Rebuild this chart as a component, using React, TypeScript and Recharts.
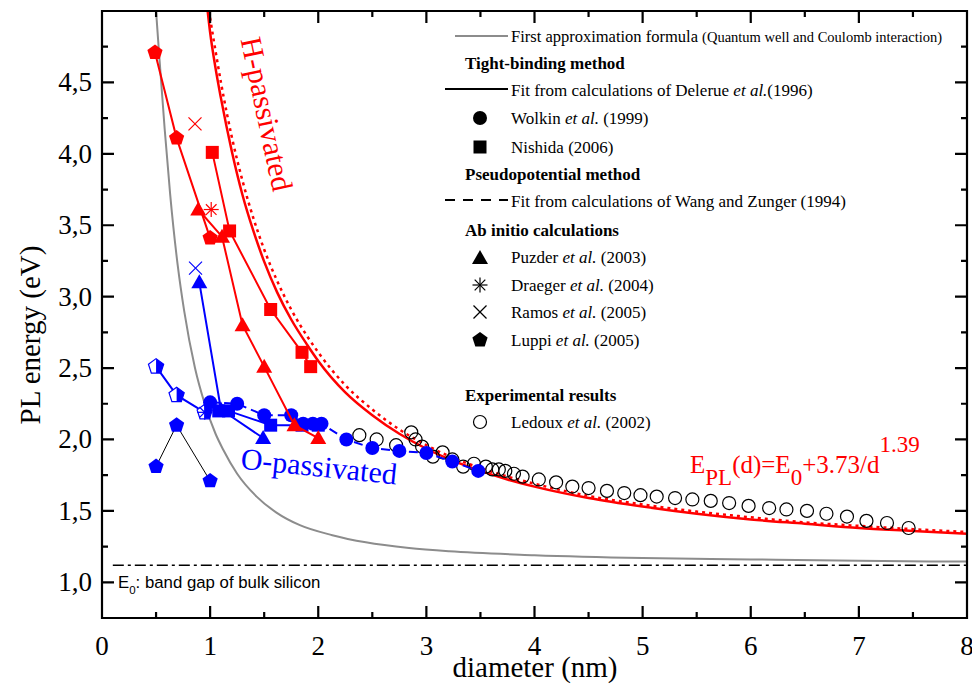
import { ComposedChart, Line, Scatter, XAxis, YAxis } from 'recharts'

const SERIF = '"Liberation Serif", "Times New Roman", serif'
const SANS = '"Liberation Sans", Arial, sans-serif'
const RED = '#ff0000'
const BLUE = '#0000ff'
const GRAY = '#8c8c8c'

// plot box (chart margins + axis sizes below put it here)
const BOX = { left: 102, right: 967, top: 11, bottom: 618 }
const X_DOMAIN = [0, 8]
const Y_DOMAIN = [0.75, 5]

// curves, [diameter nm, energy eV]
const firstApprox = [
  [0.5, 5.0], [0.53, 4.68], [0.58, 4.17], [0.63, 3.72], [0.7, 3.22], [0.76, 2.9], [0.86, 2.5],
  [0.95, 2.25], [1.05, 2.04], [1.12, 1.93], [1.25, 1.76], [1.43, 1.6], [1.61, 1.49], [1.83, 1.4],
  [2.13, 1.33], [2.44, 1.28], [2.84, 1.24], [3.21, 1.217], [4, 1.19], [5, 1.17], [6, 1.16], [7, 1.15], [8, 1.145],
]
const delerueFit = [
  [0.97, 5.05], [1.0, 4.85], [1.05, 4.6], [1.1, 4.39], [1.2, 4.02], [1.3, 3.71], [1.4, 3.46], [1.5, 3.245],
  [1.62, 3.03], [1.75, 2.84], [1.9, 2.66], [2.0, 2.55], [2.25, 2.33], [2.5, 2.17], [2.75, 2.04], [3.0, 1.935],
  [3.25, 1.85], [3.5, 1.78], [3.75, 1.72], [4.0, 1.67], [4.5, 1.59], [5.0, 1.53], [5.5, 1.48], [6.0, 1.44],
  [6.5, 1.41], [7.0, 1.38], [7.5, 1.36], [8.0, 1.34],
]
const wangZungerFit = [
  [0.98, 5.05], [1.0, 4.95], [1.05, 4.72], [1.1, 4.5], [1.2, 4.12], [1.3, 3.81], [1.4, 3.55], [1.5, 3.33],
  [1.62, 3.11], [1.75, 2.91], [1.9, 2.72], [2.0, 2.61], [2.25, 2.38], [2.5, 2.21], [2.75, 2.07], [3.0, 1.96],
  [3.25, 1.87], [3.5, 1.8], [3.75, 1.74], [4.0, 1.69], [4.5, 1.605], [5.0, 1.545], [5.5, 1.495], [6.0, 1.455],
  [6.5, 1.42], [7.0, 1.395], [7.5, 1.372], [8.0, 1.352],
]
const bulkGap = [[0.1, 1.12], [8, 1.12]]

// H-passivated
const luppiH = [[0.49, 4.71], [0.69, 4.11], [1.0, 3.41]]
const puzderH = [[0.89, 3.61], [1.11, 3.42], [1.3, 2.8], [1.5, 2.51], [1.78, 2.1], [2.0, 2.01]]
const nishidaH = [[1.02, 4.01], [1.18, 3.46], [1.56, 2.91], [1.85, 2.61], [1.93, 2.51]]
const draegerH = [[1.01, 3.61]]
const ramosH = [[0.86, 4.21]]

// O-passivated
const wolkinO = [
  [1.0, 2.26], [1.25, 2.25], [1.5, 2.17], [1.75, 2.17], [1.86, 2.11], [1.95, 2.11], [2.03, 2.11],
  [2.26, 2.0], [2.5, 1.94], [2.75, 1.92], [3.0, 1.905], [3.24, 1.845], [3.48, 1.78],
]
const nishidaO = [[1.08, 2.2], [1.17, 2.2], [1.56, 2.1], [1.85, 2.1], [2.0, 2.1]]
const puzderO = [[0.9, 3.1], [1.1, 2.21], [1.49, 2.01]]
const ramosO = [[0.865, 3.2]]
const draegerO = [[0.95, 2.19]]
const luppiO = [[0.5, 1.81], [0.69, 2.1], [1.0, 1.71]]
const luppiOHalf = [[0.5, 2.51], [0.69, 2.31], [0.95, 2.19]]

// experimental
const ledoux = [
  [2.38, 2.03], [2.54, 2.0], [2.72, 1.96], [2.86, 2.05], [2.9, 2.0], [2.96, 1.95], [3.06, 1.88], [3.15, 1.91],
  [3.24, 1.86], [3.34, 1.81], [3.44, 1.83], [3.55, 1.81], [3.61, 1.79], [3.67, 1.79], [3.73, 1.78], [3.81, 1.76],
  [3.89, 1.74], [4.04, 1.72], [4.2, 1.7], [4.35, 1.67], [4.5, 1.66], [4.67, 1.64], [4.83, 1.625], [4.98, 1.61],
  [5.13, 1.6], [5.3, 1.59], [5.46, 1.58], [5.63, 1.57], [5.8, 1.555], [5.98, 1.535], [6.17, 1.52], [6.33, 1.51],
  [6.52, 1.5], [6.7, 1.48], [6.89, 1.46], [7.07, 1.43], [7.26, 1.415], [7.46, 1.38],
]

const xTicks = [0, 0.5, 1, 1.5, 2, 2.5, 3, 3.5, 4, 4.5, 5, 5.5, 6, 6.5, 7, 7.5, 8]
const yTicks = [1, 1.25, 1.5, 1.75, 2, 2.25, 2.5, 2.75, 3, 3.25, 3.5, 3.75, 4, 4.25, 4.5, 4.75]

const pts = (a: number[][]) => a.map(([d, e]) => ({ d, e }))

// marker drawing
const pentPts = (cx: number, cy: number, r: number) =>
  [0, 1, 2, 3, 4]
    .map((k) => {
      const a = ((-90 + 72 * k) * Math.PI) / 180
      return `${cx + r * Math.cos(a)},${cy + r * Math.sin(a)}`
    })
    .join(' ')

const mk = {
  circle: (cx: number, cy: number, c: string) => <circle cx={cx} cy={cy} r={7} fill={c} />,
  open: (cx: number, cy: number, c: string) => <circle cx={cx} cy={cy} r={6.5} fill="none" stroke={c} strokeWidth={1.2} />,
  square: (cx: number, cy: number, c: string) => <rect x={cx - 6.5} y={cy - 6.5} width={13} height={13} fill={c} />,
  tri: (cx: number, cy: number, c: string) => (
    <polygon points={`${cx},${cy - 8} ${cx - 8},${cy + 6} ${cx + 8},${cy + 6}`} fill={c} />
  ),
  pent: (cx: number, cy: number, c: string) => <polygon points={pentPts(cx, cy, 8)} fill={c} />,
  halfPent: (cx: number, cy: number, c: string) => {
    const r = 8
    const a1 = (-18 * Math.PI) / 180
    const a2 = (54 * Math.PI) / 180
    const half = `${cx},${cy - r} ${cx + r * Math.cos(a1)},${cy + r * Math.sin(a1)} ${cx + r * Math.cos(a2)},${cy + r * Math.sin(a2)} ${cx},${cy + r * Math.sin(a2)}`
    return (
      <g>
        <polygon points={pentPts(cx, cy, r)} fill="#fff" stroke={c} strokeWidth={1.2} />
        <polygon points={half} fill={c} />
      </g>
    )
  },
  cross: (cx: number, cy: number, c: string) => (
    <g stroke={c} strokeWidth={1.2}>
      <line x1={cx - 6.5} y1={cy - 6.5} x2={cx + 6.5} y2={cy + 6.5} />
      <line x1={cx - 6.5} y1={cy + 6.5} x2={cx + 6.5} y2={cy - 6.5} />
    </g>
  ),
  star: (cx: number, cy: number, c: string) => (
    <g stroke={c} strokeWidth={1.2}>
      <line x1={cx} y1={cy - 7.5} x2={cx} y2={cy + 7.5} />
      <line x1={cx - 7.5} y1={cy} x2={cx + 7.5} y2={cy} />
      <line x1={cx - 5.3} y1={cy - 5.3} x2={cx + 5.3} y2={cy + 5.3} />
      <line x1={cx - 5.3} y1={cy + 5.3} x2={cx + 5.3} y2={cy - 5.3} />
    </g>
  ),
}

const shape = (kind: keyof typeof mk, c: string) => (p: any) => mk[kind](p.cx, p.cy, c)

const XTickLabel = (p: any) => {
  const v = p.payload.value
  if (!Number.isInteger(v)) return <g />
  return (
    <text x={p.x} y={p.y + 37} textAnchor="middle" fontSize={27} fontFamily={SERIF} fill="#000">
      {v}
    </text>
  )
}

const YTickLabel = (p: any) => {
  const v = p.payload.value
  if (!Number.isInteger(v * 2)) return <g />
  return (
    <text x={p.x - 10} y={p.y + 9} textAnchor="end" fontSize={27} fontFamily={SERIF} fill="#000">
      {v.toFixed(1).replace('.', ',')}
    </text>
  )
}

// frame with inward ticks on all four sides, one path
function Frame() {
  const sx = (d: number) => BOX.left + ((d - X_DOMAIN[0]) / (X_DOMAIN[1] - X_DOMAIN[0])) * (BOX.right - BOX.left)
  const sy = (e: number) => BOX.bottom - ((e - Y_DOMAIN[0]) / (Y_DOMAIN[1] - Y_DOMAIN[0])) * (BOX.bottom - BOX.top)
  let d = `M${BOX.left},${BOX.top} H${BOX.right} V${BOX.bottom} H${BOX.left} Z`
  xTicks.forEach((v) => {
    const len = Number.isInteger(v) ? 12 : 6
    const x = sx(v)
    d += ` M${x},${BOX.bottom} v${-len} M${x},${BOX.top} v${len}`
  })
  yTicks.forEach((v) => {
    const len = Number.isInteger(v * 2) ? 12 : 6
    const y = sy(v)
    d += ` M${BOX.left},${y} h${len} M${BOX.right},${y} h${-len}`
  })
  return <path d={d} stroke="#000000" strokeWidth={2.2} fill="none" />
}

function LegendBox() {
  const tx = 511
  const mx = 480
  const hx = 465
  const fs = 17
  const t = (y: number, s: any, bold = false) => (
    <text x={bold ? hx : tx} y={y + 5.5} fontSize={fs} fontFamily={SERIF} fontWeight={bold ? 'bold' : 'normal'}>
      {s}
    </text>
  )
  const it = <tspan fontStyle="italic">et al.</tspan>
  return (
    <g fill="#000">
      <line x1={455} x2={508} y1={36} y2={36} stroke={GRAY} strokeWidth={2} />
      <text x={tx} y={41.5} fontSize={16.5} fontFamily={SERIF}>
        First approximation formula <tspan fontSize={14.5}>(Quantum well and Coulomb interaction)</tspan>
      </text>
      {t(63, 'Tight-binding method', true)}
      <line x1={445} x2={508} y1={89} y2={89} stroke="#000" strokeWidth={2} />
      {t(90, <>Fit from calculations of Delerue {it}(1996)</>)}
      {mk.circle(mx, 118, '#000')}
      {t(118, <>Wolkin {it} (1999)</>)}
      {mk.square(mx, 147, '#000')}
      {t(147, 'Nishida (2006)')}
      {t(174, 'Pseudopotential method', true)}
      <line x1={445} x2={508} y1={200} y2={200} stroke="#000" strokeWidth={2} strokeDasharray="10 8" />
      {t(201, 'Fit from calculations of Wang and Zunger (1994)')}
      {t(230, 'Ab initio calculations', true)}
      {mk.tri(mx, 258, '#000')}
      {t(257, <>Puzder {it} (2003)</>)}
      {mk.star(mx, 285, '#000')}
      {t(285, <>Draeger {it} (2004)</>)}
      {mk.cross(mx, 312, '#000')}
      {t(312, <>Ramos {it} (2005)</>)}
      {mk.pent(mx, 340, '#000')}
      {t(340, <>Luppi {it} (2005)</>)}
      {t(395, 'Experimental results', true)}
      {mk.open(mx, 422, '#000')}
      {t(422, <>Ledoux {it} (2002)</>)}
    </g>
  )
}

export default function App() {
  return (
    <div style={{ position: 'absolute', left: 0, top: 0, width: 972, height: 684, background: '#fff' }}>
      <ComposedChart
        width={972}
        height={684}
        margin={{ top: BOX.top, right: 972 - BOX.right, bottom: 6, left: 0 }}
      >
        <XAxis
          type="number"
          dataKey="d"
          domain={X_DOMAIN}
          ticks={xTicks}
          interval={0}
          allowDataOverflow
          height={684 - 6 - BOX.bottom}
          tickSize={0}
          tickMargin={0}
          tickLine={false}
          axisLine={false}
          tick={XTickLabel}
        />
        <YAxis
          type="number"
          dataKey="e"
          domain={Y_DOMAIN}
          ticks={yTicks}
          interval={0}
          allowDataOverflow
          width={BOX.left}
          tickSize={0}
          tickMargin={0}
          tickLine={false}
          axisLine={false}
          tick={YTickLabel}
        />

        <Line data={pts(bulkGap)} dataKey="e" stroke="#000" strokeWidth={1.5} strokeDasharray="11 4 3 4" dot={false} isAnimationActive={false} />
        <Line data={pts(firstApprox)} dataKey="e" type="monotone" stroke={GRAY} strokeWidth={2} dot={false} isAnimationActive={false} />
        <Line data={pts(delerueFit)} dataKey="e" type="monotone" stroke={RED} strokeWidth={2.5} dot={false} isAnimationActive={false} />
        <Line data={pts(wangZungerFit)} dataKey="e" type="monotone" stroke={RED} strokeWidth={2.5} strokeDasharray="3 4" dot={false} isAnimationActive={false} />

        <Scatter data={pts(ledoux)} shape={shape('open', '#000')} isAnimationActive={false} />

        <Scatter data={pts(luppiO)} line={{ stroke: '#000', strokeWidth: 1 }} lineType="joint" shape={shape('pent', BLUE)} isAnimationActive={false} />
        <Scatter data={pts(luppiOHalf)} line={{ stroke: BLUE, strokeWidth: 2 }} lineType="joint" shape={shape('halfPent', BLUE)} isAnimationActive={false} />
        <Scatter data={pts(puzderO)} line={{ stroke: BLUE, strokeWidth: 2 }} lineType="joint" shape={shape('tri', BLUE)} isAnimationActive={false} />
        <Scatter data={pts(nishidaO)} line={{ stroke: BLUE, strokeWidth: 2 }} lineType="joint" shape={shape('square', BLUE)} isAnimationActive={false} />
        <Scatter data={pts(wolkinO)} line={{ stroke: BLUE, strokeWidth: 2, strokeDasharray: '9 5' }} lineType="joint" shape={shape('circle', BLUE)} isAnimationActive={false} />
        <Scatter data={pts(ramosO)} shape={shape('cross', BLUE)} isAnimationActive={false} />
        <Scatter data={pts(draegerO)} shape={shape('star', BLUE)} isAnimationActive={false} />

        <Scatter data={pts(luppiH)} line={{ stroke: RED, strokeWidth: 2 }} lineType="joint" shape={shape('pent', RED)} isAnimationActive={false} />
        <Scatter data={pts(puzderH)} line={{ stroke: RED, strokeWidth: 2 }} lineType="joint" shape={shape('tri', RED)} isAnimationActive={false} />
        <Scatter data={pts(nishidaH)} line={{ stroke: RED, strokeWidth: 2 }} lineType="joint" shape={shape('square', RED)} isAnimationActive={false} />
        <Scatter data={pts(draegerH)} shape={shape('star', RED)} isAnimationActive={false} />
        <Scatter data={pts(ramosH)} shape={shape('cross', RED)} isAnimationActive={false} />
      </ComposedChart>

      <svg width={972} height={684} style={{ position: 'absolute', left: 0, top: 0, pointerEvents: 'none' }}>
        <Frame />
        <LegendBox />
        <text x={535} y={677} textAnchor="middle" fontSize={29} fontFamily={SERIF}>
          diameter (nm)
        </text>
        <text transform="translate(40,335) rotate(-90)" textAnchor="middle" fontSize={29} fontFamily={SERIF}>
          PL energy (eV)
        </text>
        <text transform="translate(267,114) rotate(78)" textAnchor="middle" dy="0.35em" fontSize={30} fontFamily={SERIF} fill={RED}>
          H-passivated
        </text>
        <text transform="translate(319,466) rotate(5.9)" textAnchor="middle" dy="0.35em" fontSize={30} fontFamily={SERIF} fill={BLUE}>
          O-passivated
        </text>
        <text x={690} y={473} fontSize={25} fontFamily={SERIF} fill={RED}>
          E<tspan dy={12} fontSize={23}>PL</tspan>
          <tspan dy={-12}>(d)=E</tspan>
          <tspan dy={12} fontSize={23}>0</tspan>
          <tspan dy={-12}>+3.73/d</tspan>
          <tspan dy={-21} fontSize={23}>1.39</tspan>
        </text>
        <text x={118} y={588} fontSize={16.8} fontFamily={SANS}>
          E<tspan dy={6} fontSize={11.5}>0</tspan>
          <tspan dy={-6}>: band gap of bulk silicon</tspan>
        </text>
      </svg>
    </div>
  )
}
